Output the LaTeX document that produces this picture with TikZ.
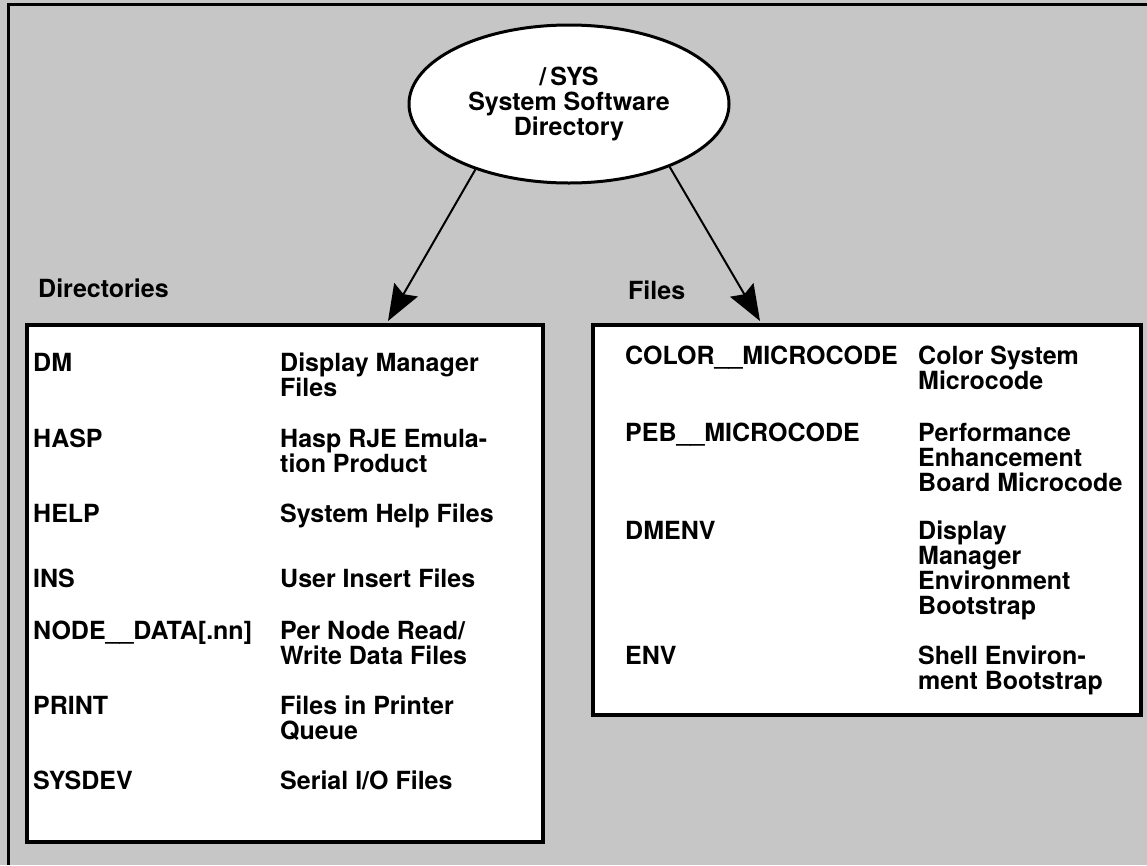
\documentclass[tikz,border=0pt]{standalone}
\usepackage{fontspec}
\setmainfont{TeX Gyre Heros}
\usetikzlibrary{arrows.meta,shapes.geometric,positioning}
\definecolor{ScreenGray}{RGB}{198,198,198}

\tikzset{
  entry/.style={anchor=north west,inner sep=0pt,align=left,
    font=\fontsize{25}{25}\selectfont\bfseries,
    execute at begin node=\strut},
  heading/.style={anchor=west,inner sep=0pt,
    font=\fontsize{25}{25}\selectfont\bfseries},
  listbox/.style={draw,line width=4pt,fill=white,anchor=north west,inner sep=0pt},
  link/.style={-{Stealth[length=36pt,width=27pt,inset=5pt]},line width=2pt}
}

\begin{document}
\begin{tikzpicture}[x=1pt,y=-1pt]
  \useasboundingbox (0,0) rectangle (1147,865);
  \fill[ScreenGray] (0,0) rectangle (1147,865);
  \draw[line width=3pt] (8,865) -- (8,4) -- (1147,4);

  % root directory
  \node[draw,fill=white,ellipse,line width=3pt,minimum width=320pt,
    minimum height=158pt,inner sep=0pt,align=center,
    font=\fontsize{25}{25}\selectfont\bfseries]
    (sys) at (569,104) {/\,SYS\\System Software\\Directory};

  % the two lists
  \node[listbox,minimum width=516pt,minimum height=517pt] (dirbox) at (25,323) {};
  \node[listbox,minimum width=548pt,minimum height=390pt] (filebox) at (591,323) {};
  \node[heading] (dirhead) at (38,288) {Directories};
  \node[heading] (filehead) at (628,290) {Files};

  \coordinate (dirtip) at (388,321);
  \coordinate (filetip) at (760,321);
  \draw[link] (sys.215) -- (dirtip);
  \draw[link] (sys.-32) -- (filetip);

  % directories
  \node[entry] (dm) at (33,353) {DM};
  \node[entry] (dmtxt) at (280,353) {Display Manager\\Files};
  \node[entry] (hasp) at (33,429) {HASP};
  \node[entry] (hasptxt) at (280,429) {Hasp RJE Emula-\\tion Product};
  \node[entry] (help) at (33,504) {HELP};
  \node[entry] (helptxt) at (280,504) {System Help Files};
  \node[entry] (ins) at (33,569) {INS};
  \node[entry] (instxt) at (280,569) {User Insert Files};
  \node[entry] (nodedata) at (33,621) {NODE\_\_DATA[.nn]};
  \node[entry] (nodedatatxt) at (280,621) {Per Node Read/\\Write Data Files};
  \node[entry] (print) at (33,696) {PRINT};
  \node[entry] (printtxt) at (280,696) {Files in Printer\\Queue};
  \node[entry] (sysdev) at (33,771) {SYSDEV};
  \node[entry] (sysdevtxt) at (280,771) {Serial I/O Files};

  % files
  \node[entry] (color) at (625,346) {COLOR\_\_MICROCODE};
  \node[entry] (colortxt) at (918,346) {Color System\\Microcode};
  \node[entry] (peb) at (625,423) {PEB\_\_MICROCODE};
  \node[entry] (pebtxt) at (918,423) {Performance\\Enhancement\\Board Microcode};
  \node[entry] (dmenv) at (625,521) {DMENV};
  \node[entry] (dmenvtxt) at (918,521) {Display\\Manager\\Environment\\Bootstrap};
  \node[entry] (env) at (625,646) {ENV};
  \node[entry] (envtxt) at (918,646) {Shell Environ-\\ment Bootstrap};
\end{tikzpicture}
\end{document}
